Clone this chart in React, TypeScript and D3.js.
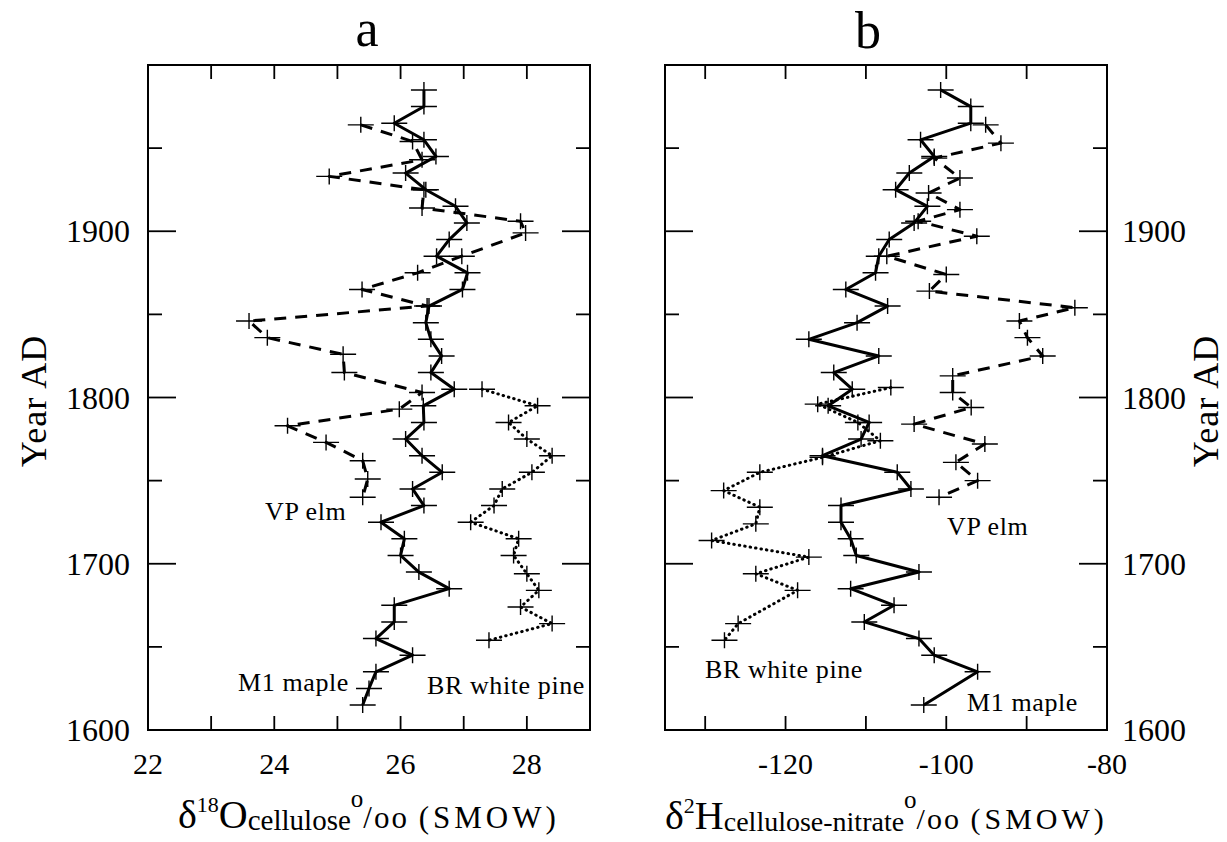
import React from "react";
import * as d3 from "d3";

const width = 1227;
const height = 842;
const font = "'Liberation Serif', 'Times New Roman', serif";

// [year AD, value]
const mapleO18 = [
  [1985, 26.37], [1975, 26.37], [1965, 25.9], [1955, 26.37], [1945, 26.56],
  [1935, 26.08], [1925, 26.4], [1915, 26.87], [1905, 27.05], [1895, 26.77],
  [1885, 26.57], [1875, 27.06], [1865, 26.98], [1855, 26.45], [1845, 26.4],
  [1835, 26.48], [1825, 26.65], [1815, 26.48], [1805, 26.85], [1795, 26.36],
  [1785, 26.37], [1775, 26.08], [1765, 26.34], [1755, 26.66], [1745, 26.19],
  [1735, 26.37], [1725, 25.69], [1715, 26.06], [1705, 26.0], [1695, 26.29],
  [1685, 26.77], [1675, 25.9], [1665, 25.9], [1655, 25.61], [1645, 26.19],
  [1635, 25.61], [1625, 25.5], [1615, 25.4],
];
const elmO18 = [
  [1964, 25.37], [1954, 26.19], [1943, 26.34], [1933, 24.87], [1925, 26.37],
  [1914, 26.34], [1906, 27.9], [1899, 27.98], [1885, 26.97], [1875, 26.27],
  [1865, 25.39], [1855, 26.42], [1846, 23.6], [1836, 23.89], [1826, 25.09],
  [1815, 25.11], [1803, 26.34], [1793, 25.98], [1783, 24.21], [1773, 24.82],
  [1762, 25.4], [1751, 25.48], [1740, 25.4],
];
const pineO18 = [
  [1805, 27.29], [1795, 28.17], [1785, 27.71], [1775, 28.0], [1765, 28.4],
  [1755, 28.08], [1745, 27.61], [1735, 27.48], [1725, 27.11], [1715, 27.87],
  [1705, 27.79], [1694, 28.0], [1684, 28.19], [1674, 27.9], [1664, 28.4],
  [1654, 27.4],
];

const mapleH2 = [
  [1985, -100.7], [1975, -96.95], [1965, -96.95], [1955, -103.2], [1945, -101.5],
  [1935, -104.6], [1925, -106.3], [1915, -102.35], [1905, -104.0], [1895, -107.1],
  [1885, -108.4], [1875, -108.8], [1865, -112.5], [1855, -107.3], [1845, -111.1],
  [1835, -117.1], [1825, -108.4], [1815, -114.0], [1805, -111.7], [1795, -114.7],
  [1785, -109.6], [1775, -110.6], [1765, -115.4], [1755, -106.1], [1745, -104.4],
  [1735, -113.1], [1725, -113.1], [1715, -111.9], [1705, -111.2], [1695, -103.4],
  [1685, -111.9], [1675, -106.5], [1665, -110.2], [1655, -103.4], [1645, -101.5],
  [1635, -96.1], [1615, -102.8],
];
const elmH2 = [
  [1964, -95.1], [1953, -93.2], [1944, -101.5], [1932, -98.3], [1923, -102.2],
  [1913, -98.3], [1906, -103.5], [1897, -96.2], [1885, -107.4], [1874, -100.0],
  [1864, -102.1], [1854, -84.0], [1846, -90.9], [1836, -89.9], [1825, -88.0],
  [1813, -99.2], [1803, -99.2], [1794, -96.9], [1784, -104.0], [1772, -95.2],
  [1761, -98.8], [1750, -96.1], [1740, -100.9],
];
const pineH2 = [
  [1806, -106.9], [1796, -116.0], [1785, -111.0], [1774, -108.2], [1764, -115.4],
  [1755, -123.2], [1744, -127.7], [1734, -123.2], [1724, -123.7], [1714, -129.2],
  [1704, -117.1], [1694, -123.7], [1684, -118.5], [1664, -125.9], [1654, -127.6],
];

const yearTicks = [1650, 1700, 1750, 1800, 1850, 1900, 1950];
const yearLabels = [1600, 1700, 1800, 1900];
const o18Ticks = [23, 24, 25, 26, 27, 28];
const o18Labels = [22, 24, 26, 28];
const h2Ticks = [-130, -120, -110, -100, -90];
const h2Labels = [-120, -100, -80];

const top = 65;
const bottom = 730;
const y = d3.scaleLinear().domain([1600, 2000]).range([bottom, top]);

const lineStyles = {
  solid: { dash: undefined, cap: "butt" },
  dashed: { dash: "12 9", cap: "butt" },
  dotted: { dash: "0.5 5", cap: "round" },
};

function Panel({ x, ticks, labels, series, side, texts }) {
  const [x0, x1] = x.range();
  const line = d3
    .line()
    .x((d) => x(d[1]))
    .y((d) => y(d[0]));
  return (
    <g>
      <rect x={x0} y={top} width={x1 - x0} height={bottom - top} fill="none" stroke="#000" strokeWidth={2} />
      {ticks.map((t) => (
        <g key={"xt" + t} stroke="#000" strokeWidth={1.8}>
          <line x1={x(t)} x2={x(t)} y1={top} y2={top + 14} />
          <line x1={x(t)} x2={x(t)} y1={bottom} y2={bottom - 14} />
        </g>
      ))}
      {yearTicks.map((t) => {
        const len = t % 100 === 0 ? 28 : 14;
        return (
          <g key={"yt" + t} stroke="#000" strokeWidth={1.8}>
            <line x1={x0} x2={x0 + len} y1={y(t)} y2={y(t)} />
            <line x1={x1} x2={x1 - len} y1={y(t)} y2={y(t)} />
          </g>
        );
      })}
      {labels.map((t) => (
        <text key={"xl" + t} x={x(t)} y={774} fontSize={30} textAnchor="middle" fontFamily={font}>
          {t}
        </text>
      ))}
      {yearLabels.map((t) => (
        <text
          key={"yl" + t}
          x={side === "left" ? x0 - 18 : x1 + 15}
          y={y(t)}
          dy="0.35em"
          fontSize={32}
          textAnchor={side === "left" ? "end" : "start"}
          fontFamily={font}
        >
          {t}
        </text>
      ))}
      {series.map((s, i) => {
        const st = lineStyles[s.style];
        return (
          <g key={"s" + i}>
            <path
              d={line(s.data)}
              fill="none"
              stroke="#000"
              strokeWidth={3}
              strokeDasharray={st.dash}
              strokeLinecap={st.cap}
              strokeLinejoin="round"
            />
            {s.data.map((d, j) => {
              const cx = x(d[1]);
              const cy = y(d[0]);
              return (
                <path
                  key={j}
                  d={`M${cx - 13},${cy}H${cx + 13}M${cx},${cy - 8}V${cy + 8}`}
                  stroke="#000"
                  strokeWidth={1.4}
                />
              );
            })}
          </g>
        );
      })}
      {texts.map((t) => (
        <text key={t.text} x={t.x} y={t.y} fontSize={26} fontFamily={font} letterSpacing={0.6}>
          {t.text}
        </text>
      ))}
    </g>
  );
}

export default function App() {
  const xO = d3.scaleLinear().domain([22, 29]).range([148, 590]);
  const xH = d3.scaleLinear().domain([-135, -80]).range([665, 1107]);

  return (
    <svg width={width} height={height} style={{ position: "absolute", left: 0, top: 0, background: "#fff" }}>
      <text x={367} y={46} fontSize={52} textAnchor="middle" fontFamily={font}>
        a
      </text>
      <text x={868} y={48} fontSize={52} textAnchor="middle" fontFamily={font}>
        b
      </text>

      <Panel
        x={xO}
        ticks={o18Ticks}
        labels={o18Labels}
        side="left"
        series={[
          { data: mapleO18, style: "solid" },
          { data: elmO18, style: "dashed" },
          { data: pineO18, style: "dotted" },
        ]}
        texts={[
          { text: "VP elm", x: 265, y: 520 },
          { text: "M1 maple", x: 238, y: 691 },
          { text: "BR white pine", x: 427, y: 694 },
        ]}
      />
      <Panel
        x={xH}
        ticks={h2Ticks}
        labels={h2Labels}
        side="right"
        series={[
          { data: mapleH2, style: "solid" },
          { data: elmH2, style: "dashed" },
          { data: pineH2, style: "dotted" },
        ]}
        texts={[
          { text: "VP elm", x: 947, y: 535 },
          { text: "M1 maple", x: 967, y: 711 },
          { text: "BR white pine", x: 705, y: 678 },
        ]}
      />

      <text transform="translate(46,401) rotate(-90)" fontSize={36} textAnchor="middle" fontFamily={font} letterSpacing={1}>
        Year AD
      </text>
      <text transform="translate(1218,401) rotate(-90)" fontSize={36} textAnchor="middle" fontFamily={font} letterSpacing={1}>
        Year AD
      </text>

      <text x={178} y={828} fontFamily={font}>
        <tspan fontSize={40}>δ</tspan>
        <tspan fontSize={22} dy={-16}>18</tspan>
        <tspan fontSize={40} dy={16}>O</tspan>
        <tspan fontSize={29} dy={2}>cellulose</tspan>
        <tspan fontSize={25} dy={-23}>o</tspan>
        <tspan fontSize={31} dy={21} letterSpacing={2}>/oo </tspan>
        <tspan fontSize={31} letterSpacing={4}>(SMOW)</tspan>
      </text>
      <text x={665} y={829} fontFamily={font}>
        <tspan fontSize={40}>δ</tspan>
        <tspan fontSize={22} dy={-16}>2</tspan>
        <tspan fontSize={40} dy={16}>H</tspan>
        <tspan fontSize={28} dy={2}>cellulose-nitrate</tspan>
        <tspan fontSize={25} dy={-23}>o</tspan>
        <tspan fontSize={30} dy={21} letterSpacing={2}>/oo </tspan>
        <tspan fontSize={30} letterSpacing={4}>(SMOW)</tspan>
      </text>
    </svg>
  );
}
